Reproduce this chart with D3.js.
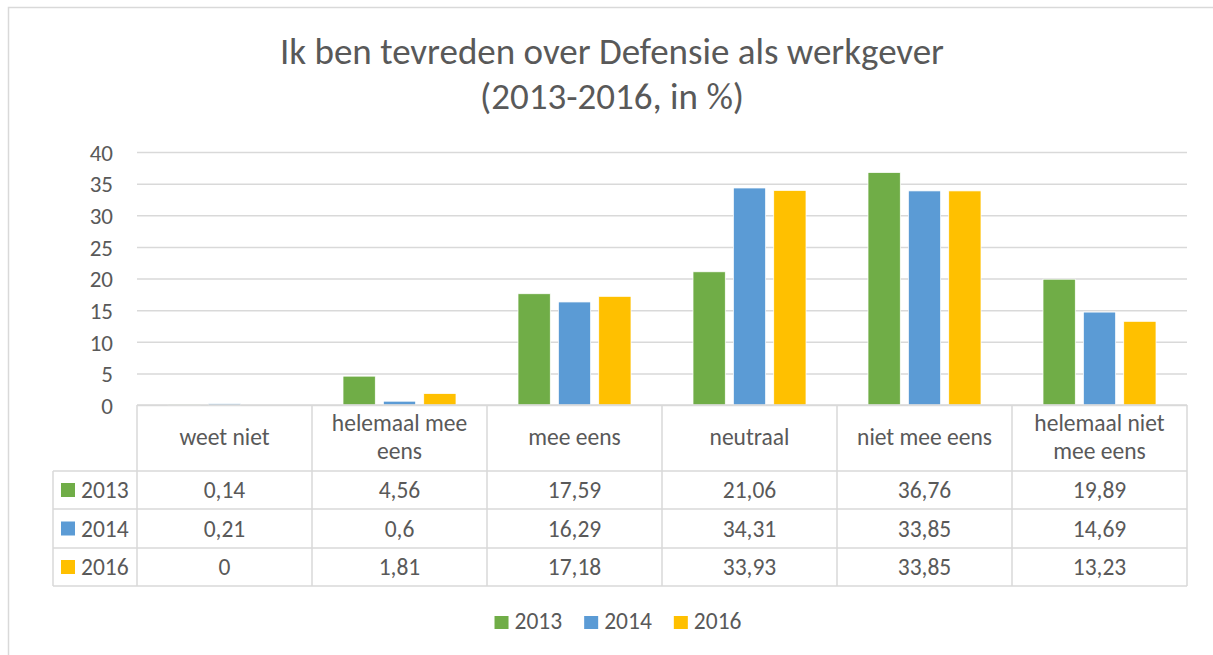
<!DOCTYPE html>
<html>
<head>
<meta charset="utf-8">
<script src="https://cdn.jsdelivr.net/npm/d3@7"></script>
<style>
  body { margin: 0; background: #fff; }
  text { font-family: Carlito, "Open Sans", sans-serif; fill: #595959; }
</style>
</head>
<body>
<div id="chart"></div>
<script>
let categories = ['weet niet', 'helemaal mee eens', 'mee eens', 'neutraal', 'niet mee eens', 'helemaal niet mee eens'];
let headerLines = [['weet niet'], ['helemaal mee', 'eens'], ['mee eens'], ['neutraal'], ['niet mee eens'], ['helemaal niet', 'mee eens']];
let years = ['2013', '2014', '2016'];
let values2013 = [0.14, 4.56, 17.59, 21.06, 36.76, 19.89];
let values2014 = [0.21, 0.6, 16.29, 34.31, 33.85, 14.69];
let values2016 = [0, 1.81, 17.18, 33.93, 33.85, 13.23];
let yTicks = [0, 5, 10, 15, 20, 25, 30, 35, 40];
let colors = ['#70AD47', '#5B9BD5', '#FFC000'];

let series = [values2013, values2014, values2016];

let svgwidth = 1213;
let svgheight = 655;

let plot = { left: 137, right: 1187, top: 152, bottom: 405 };
let rowsY = [405, 471, 509, 548, 586];   // table row lines
let legendColX = 53;
let fs = 23.5;

let svg = d3.select('#chart').append('svg')
    .attr('width', svgwidth)
    .attr('height', svgheight);

// chart area border (runs off the right and bottom edge)
svg.append('rect')
    .attr('x', 8.5).attr('y', 7.5)
    .attr('width', 1230).attr('height', 700)
    .attr('fill', 'none')
    .attr('stroke', '#d9d9d9')
    .attr('stroke-width', 1.5);

// title
let title = svg.append('text')
    .attr('text-anchor', 'middle')
    .attr('font-size', 37);
title.append('tspan').attr('x', 612).attr('y', 64).text('Ik ben tevreden over Defensie als werkgever');
title.append('tspan').attr('x', 612).attr('y', 109).text('(2013-2016, in %)');

// scales
let x0 = d3.scaleBand()
    .domain(categories)
    .range([plot.left, plot.right]);

let x1 = d3.scaleBand()
    .domain(years)
    .range([31, x0.bandwidth() - 31])
    .paddingInner(0.2);

let y = d3.scaleLinear()
    .domain([0, 40])
    .range([plot.bottom, plot.top]);

// gridlines + y labels
let yAxis = d3.axisLeft(y)
    .tickValues(yTicks)
    .tickSize(-(plot.right - plot.left))
    .tickPadding(24)
    .tickFormat(d3.format('d'));

let yg = svg.append('g')
    .attr('transform', `translate(${plot.left}, 0)`)
    .call(yAxis);
yg.select('.domain').remove();
yg.selectAll('line').attr('stroke', '#d9d9d9').attr('stroke-width', 1.5);
yg.selectAll('text')
    .attr('font-size', 23)
    .attr('font-family', 'Carlito, "Open Sans", sans-serif')
    .attr('fill', '#595959')
    .attr('dy', '0.36em');

// bars
let groups = svg.selectAll('.cat')
    .data(categories)
    .enter()
    .append('g')
    .attr('transform', d => `translate(${x0(d)}, 0)`);

groups.selectAll('rect')
    .data((d, i) => years.map((yr, j) => ({ year: yr, value: series[j][i], color: colors[j] })))
    .enter()
    .append('rect')
    .attr('x', d => x1(d.year))
    .attr('width', x1.bandwidth())
    .attr('y', d => y(d.value))
    .attr('height', d => y(0) - y(d.value))
    .attr('fill', d => d.color)
    .attr('stroke', '#fff')
    .attr('stroke-width', 0.75);

// data table lines
let grid = svg.append('g')
    .attr('stroke', '#d9d9d9')
    .attr('stroke-width', 1.5);

rowsY.forEach((ry, i) => {
    grid.append('line')
        .attr('x1', i === 0 ? plot.left : legendColX)
        .attr('x2', plot.right)
        .attr('y1', ry).attr('y2', ry);
});
grid.append('line')
    .attr('x1', legendColX).attr('x2', legendColX)
    .attr('y1', rowsY[1]).attr('y2', rowsY[4]);
categories.forEach(c => {
    grid.append('line')
        .attr('x1', x0(c)).attr('x2', x0(c))
        .attr('y1', rowsY[0]).attr('y2', rowsY[4]);
});
grid.append('line')
    .attr('x1', plot.right).attr('x2', plot.right)
    .attr('y1', rowsY[0]).attr('y2', rowsY[4]);

// header row
categories.forEach((c, i) => {
    let lines = headerLines[i];
    let cx = x0(c) + x0.bandwidth() / 2;
    let t = svg.append('text')
        .attr('text-anchor', 'middle')
        .attr('font-size', fs);
    let firstY = lines.length === 1 ? 445 : 431;
    lines.forEach((ln, k) => {
        t.append('tspan').attr('x', cx).attr('y', firstY + k * 28).text(ln);
    });
});

// value rows
let fmt = v => String(v).replace('.', ',');
years.forEach((yr, j) => {
    let top = rowsY[j + 1], bot = rowsY[j + 2];
    let base = (top + bot) / 2 + 8;

    svg.append('rect')
        .attr('x', 61).attr('y', base - 15)
        .attr('width', 14).attr('height', 14)
        .attr('fill', colors[j]);
    svg.append('text')
        .attr('x', 81).attr('y', base)
        .attr('font-size', fs)
        .text(yr);

    categories.forEach((c, i) => {
        svg.append('text')
            .attr('x', x0(c) + x0.bandwidth() / 2)
            .attr('y', base)
            .attr('text-anchor', 'middle')
            .attr('font-size', fs)
            .text(fmt(series[j][i]));
    });
});

// legend at the bottom
let legend = svg.append('g');
let lx = 0;
years.forEach((yr, j) => {
    let item = legend.append('g').attr('transform', `translate(${lx}, 0)`);
    item.append('rect')
        .attr('x', 0).attr('y', 616)
        .attr('width', 14).attr('height', 13)
        .attr('fill', colors[j]);
    let t = item.append('text')
        .attr('x', 20).attr('y', 629)
        .attr('font-size', fs)
        .text(yr);
    lx += 20 + t.node().getComputedTextLength() + 22;
});
let legendWidth = lx - 22;
legend.attr('transform', `translate(${618 - legendWidth / 2}, 0)`);
</script>
</body>
</html>
